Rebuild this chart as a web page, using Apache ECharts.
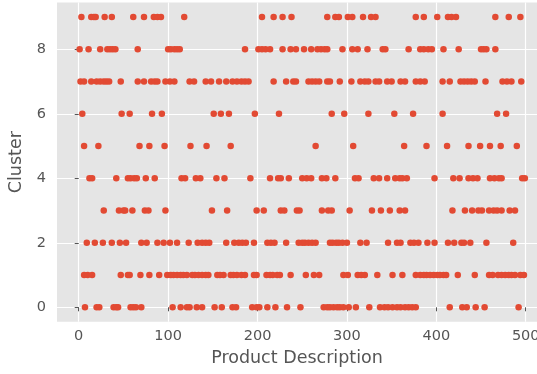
<!DOCTYPE html>
<html>
<head>
<meta charset="utf-8">
<script src="https://cdn.jsdelivr.net/npm/echarts@6/dist/echarts.min.js"></script>
<style>html,body{margin:0;padding:0;background:#fff;}#c{width:537px;height:374px;}</style>
</head>
<body>
<div id="c"></div>
<script>
// Product index positions for each cluster
const cluster0 = [7, 20, 23, 39, 42, 44, 58, 61, 64, 70, 105, 114, 121, 124, 132, 138, 152, 160, 172, 176, 194, 199, 202, 211, 220, 233, 248, 274, 278, 281, 285, 289, 292, 296, 302, 310, 325, 337, 342, 346, 351, 356, 360, 365, 369, 373, 377, 415, 429, 434, 444, 454, 492];
const cluster1 = [6, 10, 15, 47, 55, 57, 69, 79, 90, 99, 103, 106, 110, 114, 117, 121, 127, 130, 134, 138, 142, 145, 155, 158, 162, 170, 173, 177, 182, 186, 196, 199, 210, 214, 217, 222, 225, 237, 254, 263, 269, 296, 301, 312, 316, 320, 334, 351, 362, 377, 382, 386, 389, 393, 397, 401, 404, 408, 411, 424, 443, 459, 463, 469, 473, 477, 481, 484, 488, 494, 498];
const cluster2 = [9, 18, 27, 37, 46, 53, 70, 76, 88, 95, 102, 110, 123, 133, 138, 142, 146, 165, 174, 179, 183, 187, 196, 211, 215, 219, 232, 246, 250, 253, 257, 261, 265, 281, 284, 288, 291, 295, 300, 315, 322, 346, 356, 360, 371, 375, 380, 390, 398, 413, 420, 428, 431, 438, 456, 486];
const cluster3 = [28, 45, 50, 52, 60, 74, 78, 97, 149, 166, 199, 207, 226, 230, 244, 247, 272, 279, 283, 303, 328, 338, 348, 359, 365, 418, 432, 440, 447, 451, 459, 464, 468, 473, 482, 488];
const cluster4 = [12, 15, 42, 55, 58, 62, 65, 75, 85, 115, 119, 131, 136, 154, 163, 192, 214, 223, 226, 235, 250, 255, 260, 272, 277, 287, 309, 313, 330, 336, 345, 354, 359, 362, 367, 398, 419, 426, 436, 441, 446, 460, 465, 470, 473, 496, 499];
const cluster5 = [6, 22, 68, 79, 96, 125, 143, 170, 265, 307, 364, 389, 412, 436, 449, 460, 472, 490];
const cluster6 = [4, 48, 57, 82, 93, 151, 159, 168, 197, 224, 283, 297, 324, 353, 374, 407, 468, 478];
const cluster7 = [2, 6, 14, 20, 24, 28, 31, 34, 47, 66, 73, 81, 85, 88, 97, 102, 107, 124, 129, 142, 148, 157, 165, 172, 177, 182, 186, 190, 218, 232, 240, 243, 257, 261, 265, 269, 278, 281, 292, 305, 315, 320, 324, 332, 336, 345, 350, 360, 365, 377, 382, 387, 407, 415, 427, 431, 435, 439, 443, 455, 474, 479, 484, 495];
const cluster8 = [1, 11, 24, 32, 35, 38, 41, 66, 100, 103, 107, 110, 113, 186, 201, 205, 209, 214, 228, 237, 243, 252, 260, 267, 271, 275, 278, 295, 306, 312, 323, 340, 343, 369, 382, 386, 391, 395, 408, 425, 450, 453, 456, 466];
const cluster9 = [3, 14, 17, 19, 29, 37, 61, 73, 84, 88, 92, 118, 205, 218, 228, 238, 278, 287, 291, 301, 306, 318, 327, 332, 377, 386, 401, 413, 417, 422, 466, 481, 494];

const xTicks = [0, 100, 200, 300, 400, 500];
const yTicks = [0, 2, 4, 6, 8];

const clusters = [cluster0, cluster1, cluster2, cluster3, cluster4, cluster5, cluster6, cluster7, cluster8, cluster9];
const points = [];
clusters.forEach((arr, c) => arr.forEach(i => points.push([i, c])));

const txt = '#555555';
const font = 'DejaVu Sans';
const chart = echarts.init(document.getElementById('c'), null, {renderer: 'canvas'});
chart.setOption({
  animation: false,
  backgroundColor: '#ffffff',
  grid: {left: 57, top: 2.5, right: 0, height: 319.3, containLabel: false,
         outerBoundsMode: 'none',
         show: true, backgroundColor: '#E5E5E5', borderWidth: 0},
  xAxis: {
    type: 'value', min: -24.3, max: 512.6,
    name: 'Product Description', nameLocation: 'middle', nameGap: 28,
    nameTextStyle: {color: txt, fontFamily: font, fontSize: 17.5},
    axisLine: {show: false},
    axisTick: {show: true, length: 4, lineStyle: {color: txt}, customValues: xTicks},
    axisLabel: {color: txt, fontFamily: font, fontSize: 14.5, margin: 7, customValues: xTicks, hideOverlap: false},
    splitLine: {show: true, lineStyle: {color: '#ffffff', width: 1.2}}
  },
  yAxis: {
    type: 'value', min: -0.45, max: 9.45,
    name: 'Cluster', nameLocation: 'middle', nameGap: 28, nameRotate: 90,
    nameTextStyle: {color: txt, fontFamily: font, fontSize: 17.5},
    axisLine: {show: false},
    axisTick: {show: true, length: 4, lineStyle: {color: txt}, customValues: yTicks},
    axisLabel: {color: txt, fontFamily: font, fontSize: 14.5, margin: 11, customValues: yTicks},
    splitLine: {show: true, lineStyle: {color: '#ffffff', width: 1.2}}
  },
  series: [{
    type: 'scatter', data: points, symbolSize: 6.5,
    itemStyle: {color: '#E24A33', opacity: 1}
  }]
});
</script>
</body>
</html>
